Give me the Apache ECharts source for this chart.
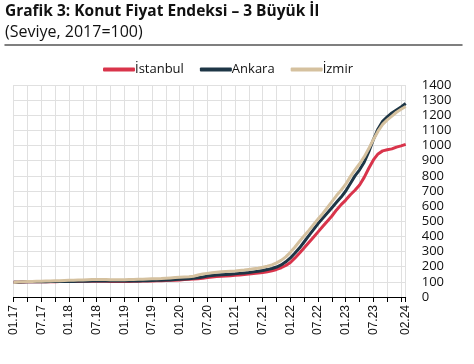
<!DOCTYPE html>
<html><head><meta charset="utf-8">
<script src="https://cdn.jsdelivr.net/npm/echarts@6/dist/echarts.min.js"></script>
<style>html,body{margin:0;padding:0;background:#fff}#c{width:474px;height:364px}</style>
</head><body><div id="c"></div>
<script>
const years = [17,18,19,20,21,22,23,24];
const categories = [];
for (const y of years) for (let m=1;m<=12;m++){ if (y===24 && m>2) break; categories.push((m<10?'0':'')+m+'.'+y); }

const istanbul = [
 97,98,99,100,100,100,100,100,101,101,102,102,
 102,103,103,104,104,104,104,104,104,103,103,103,
 103,103,104,104,105,105,106,107,108,109,110,111,
 113,115,117,119,121,124,128,132,135,137,139,141,
 143,146,149,152,155,158,162,167,173,182,193,208,
 228,258,290,325,360,395,430,465,500,535,575,610,
 640,675,705,740,790,850,905,945,965,972,978,990,
 998,1008];
const ankara = [
 97,98,99,100,100,101,101,101,102,102,102,103,
 103,103,104,104,104,105,105,105,105,105,105,105,
 105,105,106,106,107,108,109,110,111,112,113,115,
 117,119,121,124,127,132,138,142,145,147,149,151,
 153,156,159,162,166,170,175,181,188,198,212,232,
 258,290,325,365,405,445,485,520,555,590,625,660,
 700,750,800,840,890,960,1040,1110,1160,1190,1215,1235,
 1255,1278];
const izmir = [
 96,99,101,102,103,104,104,105,106,107,108,109,
 110,111,112,113,114,115,116,116,115,114,114,114,
 114,115,116,117,118,119,120,121,122,124,126,128,
 130,132,134,137,145,152,156,160,163,166,168,170,
 172,175,178,182,186,190,196,203,212,225,242,265,
 295,330,368,405,440,478,515,550,590,630,670,705,
 745,795,840,880,925,980,1040,1095,1140,1170,1195,1220,
 1240,1258];
const seriesNames = ['İstanbul','Ankara','İzmir'];
const colors = ['#d9344b','#1e3646','#d5c19f'];
const yTicks = {min:0, max:1400, interval:100};

const last = categories.length-1;
const chart = echarts.init(document.getElementById('c'));
chart.setOption({
  animation:false,
  graphic:{elements:[
    {type:'text', left:5, top:4, style:{text:'Grafik 3: Konut Fiyat Endeksi – 3 Büyük İl', font:'bold 15.5px "Open Sans"', fill:'#111'}},
    {type:'text', left:5, top:24, style:{text:'(Seviye, 2017=100)', font:'16px "Open Sans"', fill:'#111'}}
  ]},
  legend:{
    top:58, left:98, itemWidth:32, itemHeight:4, itemGap:16, icon:'roundRect',
    textStyle:{fontFamily:'Open Sans', fontSize:13, color:'#111', padding:[0,0,0,-5]},
    data:seriesNames
  },
  grid:[
    {left:13.7, right:68.3, top:85, bottom:67, containLabel:false},
    {left:5, right:12, top:43, height:2, containLabel:false}
  ],
  xAxis:[{
    type:'category', data:categories, boundaryGap:false,
    axisLine:{lineStyle:{color:'#000',width:1}},
    axisTick:{interval:(i)=>i%3===0||i===last, length:5, lineStyle:{color:'#000'}},
    axisLabel:{interval:(i)=>(i%6===0&&i<84)||i===last, rotate:90, fontFamily:'Liberation Sans', fontSize:12, color:'#111', margin:8},
    splitLine:{show:true, interval:(i)=>i%3===0||i===last, lineStyle:{color:'#e0e0e0',width:1}}
  },{
    gridIndex:1, type:'value', min:0, max:1, position:'bottom',
    axisLine:{show:true, onZero:false, lineStyle:{color:'#555',width:1.5}},
    axisTick:{show:false}, axisLabel:{show:false}, splitLine:{show:false}
  }],
  yAxis:[{
    type:'value', position:'right', min:yTicks.min, max:yTicks.max, interval:yTicks.interval,
    axisLine:{show:false}, axisTick:{show:false},
    axisLabel:{fontFamily:'Open Sans', fontSize:13, color:'#111', margin:16, align:'left', formatter:(v)=>String(v)},
    splitLine:{lineStyle:{color:'#e0e0e0',width:1}}
  },{
    gridIndex:1, type:'value', min:0, max:1, show:false
  }],
  series:[istanbul, ankara, izmir].map((d,k)=>({
    name:seriesNames[k], type:'line', data:d, symbol:'none', smooth:false,
    lineStyle:{color:colors[k], width:3}, itemStyle:{color:colors[k]}
  }))
});
</script></body></html>
